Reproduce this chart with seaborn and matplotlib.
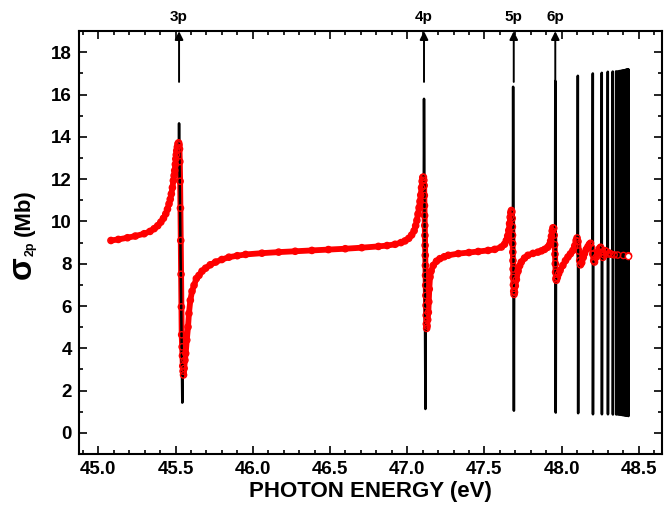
import matplotlib
matplotlib.use("Agg")
import matplotlib.pyplot as plt
import seaborn as sns
import pandas as pd
from matplotlib.ticker import MultipleLocator, FormatStrFormatter

# ---------------- data ----------------
red_energy = [
    45.082, 45.130, 45.189, 45.240, 45.297, 45.335, 45.362, 45.385, 45.405, 45.422,
    45.437, 45.448, 45.458, 45.466, 45.473, 45.480, 45.486, 45.491, 45.495, 45.499,
    45.502, 45.505, 45.508, 45.512, 45.516, 45.520, 45.523,
    45.526, 45.528, 45.530, 45.532, 45.534, 45.536, 45.538, 45.540, 45.543, 45.545,
    45.547, 45.549, 45.552, 45.556, 45.561, 45.566, 45.573, 45.581, 45.587, 45.596,
    45.607, 45.620, 45.635, 45.652, 45.672, 45.695, 45.725, 45.760, 45.800, 45.846,
    45.900, 45.954, 46.060, 46.168, 46.275, 46.383, 46.490, 46.599, 46.706, 46.814,
    46.870, 46.922, 46.960, 46.986, 47.010, 47.029, 47.045, 47.055, 47.063, 47.070,
    47.077, 47.083, 47.088, 47.093, 47.097, 47.101, 47.105, 47.108,
    47.110, 47.111, 47.112, 47.113, 47.114, 47.115, 47.116, 47.117, 47.118, 47.119,
    47.120, 47.121, 47.122, 47.123, 47.124, 47.126, 47.129, 47.133, 47.137, 47.140,
    47.143, 47.148, 47.155, 47.169, 47.190, 47.212, 47.240, 47.266, 47.331, 47.400,
    47.460, 47.524, 47.567, 47.610, 47.630, 47.642, 47.651, 47.658, 47.663, 47.667,
    47.671, 47.675, 47.678,
    47.680, 47.681, 47.682, 47.683, 47.684, 47.685, 47.686, 47.687, 47.688, 47.690,
    47.692, 47.695, 47.700, 47.707, 47.718, 47.728, 47.739, 47.760, 47.782, 47.815,
    47.847, 47.870, 47.890, 47.910, 47.922, 47.929, 47.934, 47.939, 47.944, 47.949,
    47.952, 47.955, 47.957, 47.959, 47.961, 47.963, 47.966, 47.972, 47.980, 47.990,
    48.008, 48.025, 48.041, 48.057, 48.073, 48.085, 48.094, 48.100, 48.106, 48.112,
    48.117, 48.122, 48.130, 48.140, 48.148, 48.160, 48.170, 48.180, 48.187, 48.195,
    48.202, 48.208, 48.213, 48.222, 48.234, 48.245, 48.252, 48.260, 48.267, 48.274,
    48.282, 48.290, 48.299, 48.310, 48.320, 48.340, 48.363, 48.400, 48.433,
]
red_sigma = [
    9.10, 9.15, 9.23, 9.31, 9.42, 9.53, 9.66, 9.80, 9.97, 10.15,
    10.36, 10.58, 10.83, 11.05, 11.30, 11.60, 11.93, 12.17, 12.41, 12.70,
    12.96, 13.15, 13.35, 13.52, 13.67, 13.72, 13.62,
    13.43, 12.83, 11.90, 10.63, 9.10, 7.50, 5.96, 4.64, 4.07, 3.65,
    3.16, 2.92, 2.74, 3.05, 3.44, 3.76, 4.39, 5.01, 5.65, 6.27,
    6.70, 6.98, 7.30, 7.45, 7.65, 7.79, 7.95, 8.08, 8.20, 8.31,
    8.38, 8.44, 8.50, 8.55, 8.59, 8.63, 8.67, 8.71, 8.76, 8.82,
    8.86, 8.92, 9.00, 9.08, 9.20, 9.36, 9.56, 9.80, 10.05, 10.35,
    10.65, 10.95, 11.25, 11.60, 11.90, 12.08, 12.10, 11.95,
    11.70, 11.23, 10.75, 10.28, 9.81, 9.34, 8.87, 8.40, 7.92, 7.45,
    6.98, 6.50, 6.03, 5.56, 5.15, 4.94, 5.05, 5.35, 5.70, 6.20,
    6.80, 7.37, 7.65, 7.92, 8.12, 8.24, 8.33, 8.40, 8.48, 8.53,
    8.58, 8.63, 8.68, 8.79, 8.92, 9.10, 9.32, 9.58, 9.90, 10.20,
    10.42, 10.52, 10.45,
    10.15, 9.75, 9.35, 8.95, 8.55, 8.15, 7.75, 7.35, 7.00, 6.70,
    6.55, 6.65, 6.95, 7.25, 7.65, 7.90, 8.08, 8.27, 8.40, 8.49,
    8.55, 8.61, 8.68, 8.78, 8.90, 9.08, 9.30, 9.55, 9.70, 9.68,
    9.35, 8.90, 8.45, 8.00, 7.60, 7.30, 7.22, 7.35, 7.52, 7.68,
    7.92, 8.15, 8.32, 8.47, 8.63, 8.85, 9.10, 9.22, 9.05, 8.60,
    8.15, 7.95, 8.05, 8.30, 8.48, 8.68, 8.80, 8.92, 8.97, 8.75,
    8.45, 8.15, 8.08, 8.30, 8.55, 8.72, 8.78, 8.55, 8.30, 8.42,
    8.62, 8.58, 8.46, 8.50, 8.45, 8.42, 8.41, 8.39, 8.38,
]

# black (high resolution) resonance spikes: energy of maximum / minimum and their values
res_emax = [45.523, 47.109, 47.686, 47.959, 48.105, 48.202, 48.260, 48.299, 48.331, 48.353,
            48.364, 48.372, 48.379, 48.385, 48.390, 48.395, 48.399, 48.403, 48.407, 48.410,
            48.413, 48.416, 48.419, 48.421, 48.424, 48.426, 48.428, 48.430, 48.432]
res_emin = [45.544, 47.118, 47.691, 47.962, 48.107, 48.203, 48.261, 48.300, 48.332, 48.354,
            48.365, 48.373, 48.380, 48.386, 48.391, 48.396, 48.400, 48.404, 48.408, 48.411,
            48.414, 48.417, 48.420, 48.422, 48.425, 48.427, 48.429, 48.431, 48.433]
res_smax = [14.64, 15.80, 16.37, 16.65, 16.89, 17.00, 17.03, 17.08, 17.09, 17.10,
            17.10, 17.11, 17.12, 17.12, 17.13, 17.14, 17.14, 17.15, 17.15, 17.16,
            17.16, 17.17, 17.17, 17.18, 17.18, 17.19, 17.19, 17.20, 17.20]
res_smin = [1.43, 1.13, 1.05, 0.96, 0.93, 0.88, 0.88, 0.88, 0.87, 0.87,
            0.87, 0.86, 0.86, 0.85, 0.85, 0.84, 0.84, 0.84, 0.83, 0.83,
            0.83, 0.82, 0.82, 0.82, 0.81, 0.81, 0.81, 0.80, 0.80]
res_sbefore = [13.60, 12.00, 10.30, 9.60, 9.10, 8.90, 8.70, 8.50, 8.45, 8.42,
               8.41, 8.41, 8.40, 8.40, 8.40, 8.40, 8.39, 8.39, 8.39, 8.39,
               8.39, 8.39, 8.39, 8.38, 8.38, 8.38, 8.38, 8.38, 8.38]
res_safter = [3.30, 5.00, 6.60, 7.30, 8.00, 8.10, 8.30, 8.45, 8.42, 8.41,
              8.41, 8.40, 8.40, 8.40, 8.40, 8.40, 8.39, 8.39, 8.39, 8.39,
              8.39, 8.39, 8.39, 8.38, 8.38, 8.38, 8.38, 8.38, 8.38]

series_labels = ["3p", "4p", "5p", "6p"]
series_energy = [45.523, 47.109, 47.690, 47.959]

# ---------------- style ----------------
sns.set_theme(style="ticks")
plt.rcParams["font.family"] = ["Liberation Sans", "DejaVu Sans"]
plt.rcParams["font.weight"] = "bold"
plt.rcParams["text.color"] = "black"
plt.rcParams["axes.labelcolor"] = "black"
plt.rcParams["xtick.color"] = "black"
plt.rcParams["ytick.color"] = "black"

W, H = 671, 511
fig = plt.figure(figsize=(W / 100, H / 100), dpi=100)
ax = fig.add_axes([0.1177, 0.1115, 0.8689, 0.8275])

# black spikes as separate units
rows = []
for i in range(len(res_emax)):
    rows.append((i, res_emax[i] - 0.0015, res_sbefore[i]))
    rows.append((i, res_emax[i], res_smax[i]))
    rows.append((i, res_emin[i], res_smin[i]))
    rows.append((i, res_emin[i] + 0.0015, res_safter[i]))
black_df = pd.DataFrame(rows, columns=["unit", "energy", "sigma"])

red_df = pd.DataFrame({"energy": red_energy, "sigma": red_sigma})

# red band (line)
sns.lineplot(data=red_df, x="energy", y="sigma", estimator=None, sort=False,
             color="#ff0000", lw=4.2, ax=ax, zorder=2)
# black spikes
sns.lineplot(data=black_df, x="energy", y="sigma", units="unit", estimator=None,
             sort=False, color="black", lw=1.8, ax=ax, zorder=3)
# red open circles
sns.scatterplot(data=red_df, x="energy", y="sigma", marker="o", s=20,
                facecolor="none", edgecolor="#ff0000", linewidth=1.0, ax=ax, zorder=4)
ax.scatter([red_energy[-1]], [red_sigma[-1]], s=20, facecolor="white",
           edgecolor="#ff0000", linewidth=1.0, zorder=5)

# arrows and labels
for lab, e in zip(series_labels, series_energy):
    ax.annotate("", xy=(e, 19.0), xytext=(e, 16.6),
                arrowprops=dict(arrowstyle="-|>", color="black", lw=1.4,
                                mutation_scale=12, shrinkA=0, shrinkB=0),
                annotation_clip=False, zorder=6)
    ax.text(e, 19.65, lab, ha="center", va="center", fontsize=11,
            fontweight="bold", color="black", clip_on=False)

ax.set_xlim(44.875, 48.65)
ax.set_ylim(-1, 19)
ax.xaxis.set_major_locator(MultipleLocator(0.5))
ax.xaxis.set_minor_locator(MultipleLocator(0.1))
ax.yaxis.set_major_locator(MultipleLocator(2))
ax.yaxis.set_minor_locator(MultipleLocator(1))
ax.xaxis.set_major_formatter(FormatStrFormatter("%.1f"))
ax.tick_params(which="both", direction="in", top=True, right=True, width=1.2,
               labelsize=13.5, pad=5, colors="black")
ax.tick_params(which="major", length=6)
ax.tick_params(which="minor", length=3)
for lbl in ax.get_xticklabels() + ax.get_yticklabels():
    lbl.set_fontweight("bold")
for sp in ax.spines.values():
    sp.set_linewidth(1.5)
    sp.set_color("black")

ax.set_xlabel("PHOTON ENERGY (eV)", fontsize=16, fontweight="bold", labelpad=2,
              color="black")
ax.set_ylabel("")

# y label: large sigma with small "2p" subscript, then "(Mb)"
fig.text(22 / W, 1 - 268 / H, "σ", rotation=90, ha="center", va="center",
         fontsize=24, fontweight="bold", color="black")
fig.text(31 / W, 1 - 249 / H, "2p", rotation=90, ha="center", va="center",
         fontsize=9, fontweight="bold", color="black")
fig.text(24 / W, 1 - 213 / H, "(Mb)", rotation=90, ha="center", va="center",
         fontsize=16, fontweight="bold", color="black")

fig.savefig("out.png", dpi=100)
